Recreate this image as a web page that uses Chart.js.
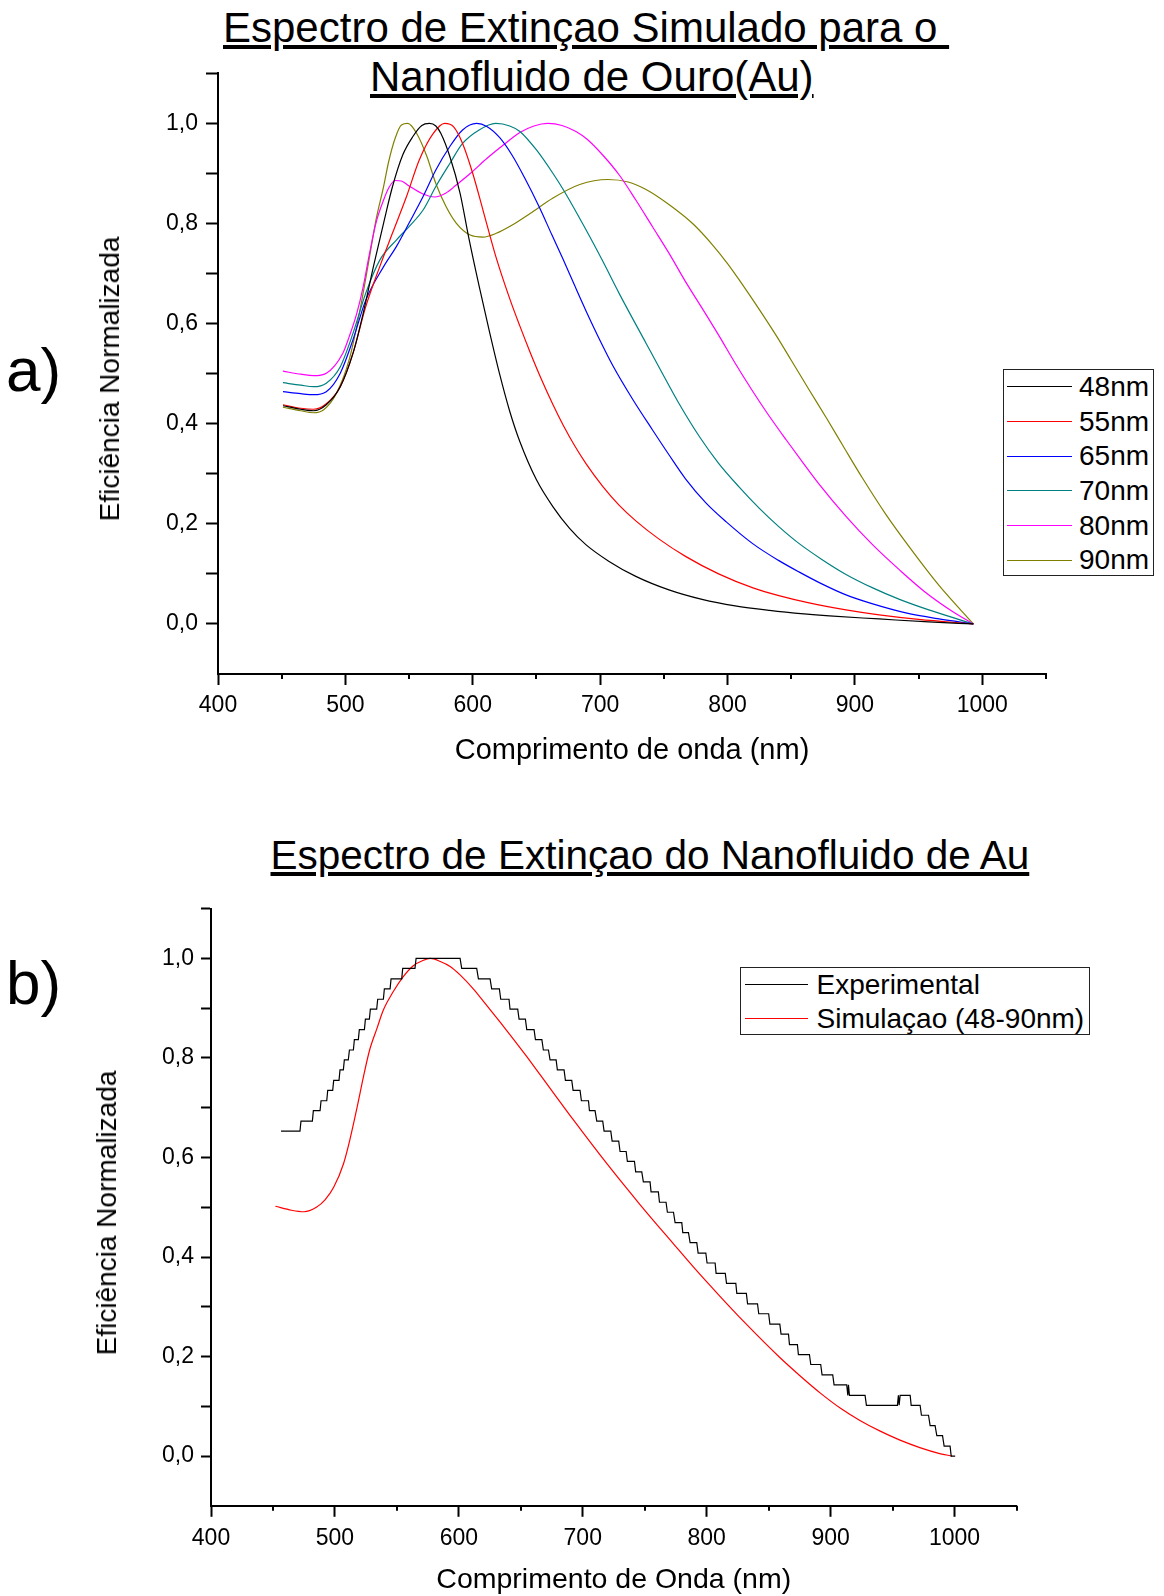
<!DOCTYPE html>
<html>
<head>
<meta charset="utf-8">
<script src="https://cdn.jsdelivr.net/npm/chart.js@4.4.1/dist/chart.umd.min.js"></script>
<style>
  html, body { margin: 0; padding: 0; background: #fff; }
  body { width: 1164px; height: 1596px; position: relative; overflow: hidden;
         font-family: 'Liberation Sans', Arial, sans-serif; color: #000; }
  canvas { position: absolute; left: 0; }
  .t { position: absolute; white-space: pre; line-height: 1; }
  .title { font-size: 42px; text-decoration: underline; }
  .panel { font-size: 62px; }
  .ytitle { position: absolute; font-size: 28px; line-height: 1; white-space: pre;
            transform: translate(-50%, -50%) rotate(-90deg); }
  .legend { position: absolute; border: 1px solid #222; box-sizing: border-box; background: #fff; }
  .lg-line { position: absolute; height: 1px; }
  .lg-text { position: absolute; font-size: 28px; line-height: 1; white-space: pre; }
</style>
</head>
<body>
<div class="t title" style="left:223px; top:6.7px;">Espectro de Extinçao Simulado para o&nbsp;</div>
<div class="t title" style="left:370px; top:55.5px;">Nanofluido de Ouro(Au)</div>
<div class="t title" style="left:270.5px; top:835px; font-size:40.5px;">Espectro de Extinçao do Nanofluido de Au</div>
<div class="t panel" style="left:6px; top:339px;">a)</div>
<div class="t panel" style="left:6px; top:952px;">b)</div>

<canvas id="chartA" width="1164" height="790" style="top:0;"></canvas>
<canvas id="chartB" width="1164" height="806" style="top:790px;"></canvas>

<div class="ytitle" style="left:110px; top:379px;">Eficiência Normalizada</div>
<div class="ytitle" style="left:107px; top:1213px;">Eficiência Normalizada</div>

<script>
// ---- axis ticks ----
const xMajorTicks = [400, 500, 600, 700, 800, 900, 1000];
const xMinorTicks = [450, 550, 650, 750, 850, 950, 1050];
const yTicks = [0, 0.1, 0.2, 0.3, 0.4, 0.5, 0.6, 0.7, 0.8, 0.9, 1.0, 1.1];
const yLabelled = [0, 0.2, 0.4, 0.6, 0.8, 1.0];

// ---- (a) simulated extinction spectra, one curve per particle size ----
const sizeLabels = ['48nm', '55nm', '65nm', '70nm', '80nm', '90nm'];

const wl48 = [451,465,475,485,496,506,514,522,530,537,545,553,560,566,571,575,582,590,597,605,613,621,629,637,650,663,676,689,707,728,754,780,806,833,860,880,919,958,993];
const ef48 = [0.436,0.429,0.426,0.438,0.474,0.541,0.621,0.714,0.801,0.874,0.937,0.974,0.996,1.000,0.995,0.980,0.934,0.861,0.770,0.675,0.585,0.500,0.425,0.364,0.288,0.234,0.191,0.158,0.125,0.095,0.068,0.049,0.036,0.027,0.020,0.016,0.010,0.004,0.000];

const wl55 = [451,465,475,485,496,506,516,527,537,548,558,569,578,585,592,600,608,618,629,637,645,653,663,671,680,689,702,715,728,746,767,793,820,841,864,893,919,950,993];
const ef55 = [0.438,0.431,0.429,0.440,0.474,0.541,0.634,0.714,0.781,0.854,0.927,0.980,1.000,0.993,0.960,0.900,0.827,0.735,0.650,0.595,0.543,0.494,0.438,0.397,0.356,0.320,0.275,0.237,0.206,0.170,0.135,0.100,0.072,0.056,0.042,0.028,0.018,0.009,0.000];

const wl65 = [451,465,475,485,496,506,516,530,540,550,561,571,582,592,603,611,621,631,641,652,662,671,680,689,700,710,726,741,754,767,783,799,820,840,856,874,893,914,940,966,993];
const ef65 = [0.464,0.460,0.458,0.464,0.501,0.568,0.647,0.714,0.754,0.801,0.854,0.907,0.954,0.987,1.000,0.994,0.972,0.936,0.890,0.834,0.778,0.728,0.676,0.625,0.566,0.516,0.447,0.388,0.338,0.290,0.242,0.204,0.160,0.127,0.104,0.080,0.058,0.040,0.022,0.010,0.000];

const wl70 = [451,465,475,485,496,506,516,527,540,550,561,571,582,592,605,618,629,637,650,663,671,689,702,715,736,749,762,778,793,809,825,840,856,874,893,914,935,958,993];
const ef70 = [0.482,0.477,0.474,0.481,0.514,0.581,0.661,0.727,0.767,0.794,0.827,0.874,0.920,0.960,0.987,1.000,0.995,0.984,0.947,0.900,0.868,0.787,0.725,0.660,0.561,0.500,0.440,0.374,0.321,0.274,0.231,0.195,0.161,0.129,0.099,0.072,0.049,0.028,0.000];

const wl80 = [451,465,475,485,498,503,509,514,519,524,530,534,539,544,550,561,570,579,587,598,611,624,637,648,659,670,681,690,702,715,728,741,754,767,780,793,806,819,832,846,859,872,893,914,935,955,976,993];
const ef80 = [0.505,0.499,0.496,0.501,0.541,0.574,0.621,0.674,0.741,0.801,0.847,0.871,0.886,0.885,0.875,0.859,0.853,0.861,0.877,0.900,0.930,0.957,0.982,0.995,1.000,0.996,0.984,0.968,0.937,0.897,0.847,0.794,0.741,0.684,0.631,0.577,0.521,0.468,0.418,0.368,0.323,0.279,0.215,0.158,0.108,0.064,0.026,0.000];

const wl90 = [451,465,475,483,493,503,511,519,524,530,534,539,544,549,556,564,571,579,587,598,608,618,631,645,663,684,706,722,736,754,773,788,800,812,825,838,850,864,878,892,906,924,945,966,993];
const ef90 = [0.433,0.426,0.422,0.428,0.461,0.528,0.621,0.734,0.807,0.874,0.924,0.970,0.997,1.000,0.980,0.934,0.880,0.834,0.801,0.777,0.773,0.780,0.797,0.820,0.851,0.878,0.888,0.883,0.868,0.838,0.799,0.758,0.720,0.677,0.628,0.577,0.527,0.468,0.410,0.350,0.291,0.220,0.146,0.077,0.000];

const sizeColors = ['#000000', '#FF0000', '#0000FF', '#008080', '#FF00FF', '#808000'];

// ---- (b) measured spectrum vs. simulation ----
const compareLabels = ['Experimental', 'Simulaçao (48-90nm)'];

const wlSim = [452,465,475,485,492,499,507,512,518,523,528,534,539,547,555,563,571,577,585,593,601,612,622,633,644,655,666,676,692,719,746,773,791,810,830,859,875,892,908,924,940,956,972,988,998];
const efSim = [0.502,0.494,0.491,0.500,0.515,0.540,0.588,0.635,0.702,0.762,0.816,0.860,0.896,0.933,0.963,0.985,0.996,1.000,0.994,0.984,0.967,0.938,0.907,0.873,0.838,0.802,0.765,0.731,0.677,0.589,0.506,0.427,0.375,0.323,0.270,0.198,0.162,0.126,0.096,0.071,0.050,0.032,0.017,0.005,0.000];

// measured spectrum: [from nm, to nm, normalized level]
const expSteps = [
  [456.5,471.8,0.653],[472.6,481.8,0.673],[482.6,488.0,0.694],[488.8,493.4,0.714],
  [494.2,498.2,0.735],[499.0,503.3,0.755],[504.1,506.8,0.776],[507.6,510.8,0.796],
  [511.7,514.9,0.816],[515.7,518.9,0.837],[519.7,523.8,0.857],[524.6,527.8,0.878],
  [528.6,533.7,0.898],[534.5,539.1,0.918],[539.9,544.5,0.939],[545.3,553.9,0.959],
  [554.7,564.6,0.980],[565.5,601.0,1.000],[602.3,614.4,0.980],[615.8,625.2,0.959],
  [626.5,632.7,0.939],[633.8,640.5,0.918],[641.3,647.5,0.898],[648.6,653.7,0.878],
  [654.8,660.7,0.857],[661.8,667.0,0.837],[668.2,672.3,0.816],[673.6,678.5,0.796],
  [679.5,684.9,0.776],[686.0,691.1,0.755],[692.2,697.8,0.735],[698.9,704.6,0.714],
  [705.4,709.9,0.694],[711.3,716.1,0.673],[717.2,722.6,0.653],[723.7,729.0,0.633],
  [730.1,735.0,0.612],[736.0,741.7,0.592],[742.7,747.6,0.571],[748.9,754.3,0.551],
  [755.1,761.0,0.531],[761.9,767.2,0.510],[768.3,773.2,0.490],[774.5,779.9,0.469],
  [780.7,785.3,0.449],[786.6,792.0,0.429],[793.1,799.3,0.408],[800.3,806.8,0.388],
  [807.6,815.0,0.367],[816.0,823.5,0.347],[824.3,832.0,0.327],[833.0,841.0,0.306],
  [842.0,850.0,0.286],[851.0,859.0,0.265],[860.0,866.0,0.245],[866.8,873.2,0.224],
  [874.0,882.9,0.204],[884.0,892.0,0.184],[893.1,901.7,0.163],[902.8,913.0,0.143],
  [913.9,913.9,0.122],[914.4,914.4,0.143],[915.2,927.8,0.122],[928.9,953.9,0.102],
  [954.7,954.7,0.122],[955.3,955.3,0.102],[956.1,964.2,0.122],[965.0,972.2,0.102],
  [973.3,979.0,0.082],[980.3,984.3,0.061],[985.7,990.3,0.041],[991.6,996.4,0.020],
  [997.3,1000.5,0.000]
];

// ---- helpers ----
Chart.defaults.font.family = "'Liberation Sans', Arial, sans-serif";
Chart.defaults.color = '#000';

const pairs = (xs, ys) => xs.map((x, i) => ({ x: x, y: ys[i] }));
const stepPoints = rows => {
  const pts = [];
  rows.forEach(([a, b, v]) => {
    pts.push({ x: a, y: v });
    if (b !== a) pts.push({ x: b, y: v });
  });
  return pts;
};

function curve(label, color, points, smooth) {
  return {
    label: label, data: points, borderColor: color, backgroundColor: color,
    borderWidth: 1.2, pointRadius: 0, fill: false,
    cubicInterpolationMode: smooth ? 'monotone' : 'default', tension: 0
  };
}

// short minor tick marks on the wavelength axis
const minorTicks = {
  id: 'minorTicks',
  afterDraw(chart, args, opts) {
    const s = chart.scales.x, ctx = chart.ctx;
    ctx.save();
    ctx.strokeStyle = '#000';
    ctx.lineWidth = 2;
    xMinorTicks.forEach(v => {
      const p = Math.round(s.getPixelForValue(v));
      ctx.beginPath();
      ctx.moveTo(p, s.top);
      ctx.lineTo(p, s.top + opts.length);
      ctx.stroke();
    });
    ctx.restore();
  }
};

function scales(g) {
  return {
    x: {
      type: 'linear', min: 400, max: 1050,
      afterBuildTicks: s => { s.ticks = xMajorTicks.map(v => ({ value: v })); },
      afterFit: s => { s.height = g.xHeight; },
      ticks: { autoSkip: false, maxRotation: 0, padding: g.xPad, font: { size: 23 }, color: '#000',
               callback: v => String(v) },
      grid: { display: true, drawOnChartArea: false, drawTicks: true, tickLength: 11,
              tickWidth: 2, tickColor: '#000', color: '#000' },
      border: { display: true, color: '#000', width: 2 },
      title: { display: true, text: g.xTitle, color: '#000', font: { size: g.xTitleSize, lineHeight: 1 },
               padding: { top: 0, bottom: g.xTitlePad } }
    },
    y: {
      type: 'linear', min: -0.1, max: 1.1,
      afterBuildTicks: s => { s.ticks = yTicks.map(v => ({ value: v })); },
      afterFit: s => { s.width = 130; },
      ticks: { autoSkip: false, padding: g.yPad, font: { size: 23 }, color: '#000',
               callback: v => yLabelled.some(t => Math.abs(t - v) < 1e-9) ? v.toFixed(1).replace('.', ',') : '' },
      grid: { display: true, drawOnChartArea: false, drawTicks: true, tickLength: g.yTick,
              tickWidth: 2, tickColor: '#000', color: '#000' },
      border: { display: true, color: '#000', width: 2 },
      title: { display: false }
    }
  };
}

function makeChart(id, datasets, g) {
  return new Chart(document.getElementById(id), {
    type: 'line',
    data: { datasets: datasets },
    options: {
      responsive: false, animation: false, devicePixelRatio: 1,
      layout: { padding: g.pad },
      scales: scales(g),
      plugins: { legend: { display: false }, tooltip: { enabled: false }, minorTicks: { length: 5 } }
    },
    plugins: [minorTicks]
  });
}

function legendBox(chart, b) {
  const box = document.createElement('div');
  box.className = 'legend';
  Object.assign(box.style, { left: b.left + 'px', top: b.top + 'px', width: b.width + 'px', height: b.height + 'px' });
  document.body.appendChild(box);
  chart.data.datasets.forEach((ds, i) => {
    const y = b.firstRow + i * b.rowGap;
    const line = document.createElement('div');
    line.className = 'lg-line';
    Object.assign(line.style, { left: b.lineLeft + 'px', top: (y - 0.5) + 'px', width: b.lineWidth + 'px', background: ds.borderColor });
    const txt = document.createElement('div');
    txt.className = 'lg-text';
    txt.textContent = ds.label;
    Object.assign(txt.style, { left: b.textLeft + 'px', top: (y - 13.7) + 'px' });
    document.body.appendChild(line);
    document.body.appendChild(txt);
  });
}

// ---- (a) ----
const sizeData = [[wl48, ef48], [wl55, ef55], [wl65, ef65], [wl70, ef70], [wl80, ef80], [wl90, ef90]];
const chartA = makeChart('chartA',
  sizeData.map(([xs, ys], i) => curve(sizeLabels[i], sizeColors[i], pairs(xs, ys), true)),
  { pad: { left: 88, right: 118, top: 73.4, bottom: 0 }, xHeight: 116, xPad: 7,
    xTitle: 'Comprimento de onda (nm)', xTitleSize: 29, xTitlePad: 25, yPad: 8, yTick: 12 });

legendBox(chartA, { left: 1003, top: 369, width: 151, height: 207, firstRow: 386.7, rowGap: 34.66,
                    lineLeft: 1006.7, lineWidth: 65, textLeft: 1079 });

// ---- (b) ----
const chartB = makeChart('chartB',
  [curve(compareLabels[0], '#000000', stepPoints(expSteps), false),
   curve(compareLabels[1], '#FF0000', pairs(wlSim, efSim), true)],
  { pad: { left: 81, right: 147.5, top: 118.7, bottom: 0 }, xHeight: 90.2, xPad: 8,
    xTitle: 'Comprimento de Onda (nm)', xTitleSize: 28.5, xTitlePad: 2, yPad: 7, yTick: 10 });

legendBox(chartB, { left: 739.5, top: 966.7, width: 350.5, height: 68, firstRow: 984.3, rowGap: 34,
                    lineLeft: 745, lineWidth: 63.3, textLeft: 816.5 });
</script>
</body>
</html>
